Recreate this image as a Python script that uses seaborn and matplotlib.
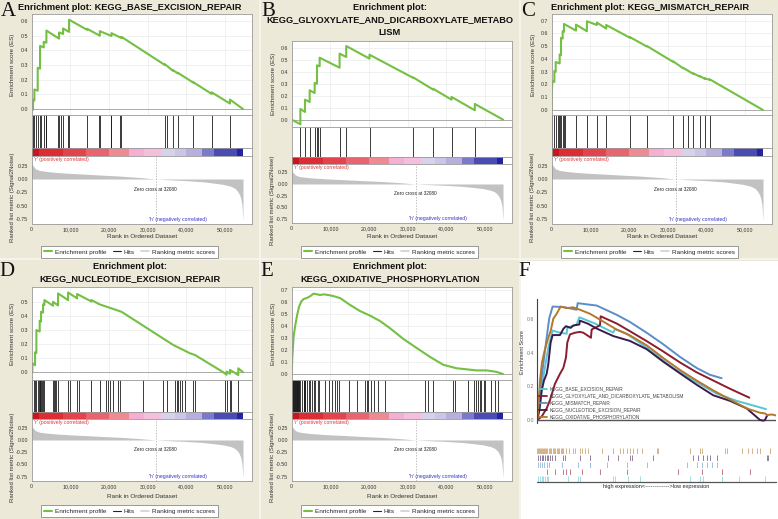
import matplotlib
matplotlib.use("Agg")
import matplotlib.pyplot as plt
from matplotlib.lines import Line2D
from matplotlib.patches import Rectangle
from matplotlib.ticker import FuncFormatter
import seaborn as sns

sns.set_style("white")
plt.rcParams["font.family"] = ["Liberation Sans", "DejaVu Sans"]

W, H = 778, 519
N_GENES = 54675
ZERO_CROSS = 32080
XMAX = 57000

BEIGE = "#ece9d8"
GREEN = "#74c043"

# Signal2Noise ranking metric shared by the five GSEA panels
metric_rank = [0, 300, 1000, 2000, 4000, 6000, 10000, 14000, 18000, 23000, 28000, 32080,
               36000, 40000, 44000, 47000, 49500, 51500, 52500, 53200, 53700, 54100, 54400, 54675]
metric_val = [0.30, 0.25, 0.19, 0.16, 0.14, 0.125, 0.105, 0.09, 0.073, 0.054, 0.028, 0.0,
              -0.016, -0.03, -0.05, -0.075, -0.10, -0.135, -0.17, -0.22, -0.28, -0.36, -0.48, -0.78]

# red -> blue heat bar under the hits
bar_edges = [0, 2000, 8000, 14000, 20000, 25300, 29000, 33400, 37000, 40000, 44000, 47200, 53200, 54675]
bar_colors = ["#c8161d", "#dc2d35", "#e2434c", "#e8646e", "#ee8a92", "#f3b0d2", "#f5bfdc",
              "#d6d2ec", "#cbc5e6", "#b7afdc", "#7b79c9", "#4b4bb4", "#2424a2"]

# A: KEGG_BASE_EXCISION_REPAIR
ber_x = [0, 350, 350, 690, 690, 1550, 1550, 2160, 2160, 3110, 3110, 3800, 3800, 7080, 7080, 8120, 8120,
         9670, 9670, 14340, 14340, 17620, 17620, 20640, 20640, 23230, 23230, 34460, 34460, 36500, 36500,
         37800, 37800, 41800, 41800, 46550, 46550, 51300, 51300, 54675]
ber_y = [0.0, -0.005, 0.064, 0.057, 0.133, 0.125, 0.281, 0.275, 0.430, 0.420, 0.458, 0.452, 0.535, 0.480,
         0.522, 0.512, 0.549, 0.526, 0.609, 0.540, 0.547, 0.500, 0.531, 0.498, 0.517, 0.484, 0.492, 0.300,
         0.305, 0.262, 0.266, 0.243, 0.247, 0.180, 0.183, 0.103, 0.114, 0.037, 0.064, 0.0]
ber_hits = [350, 690, 1100, 1550, 2160, 2500, 3110, 3630, 3800, 6850, 7080, 7690, 8120, 9300, 9670, 14340,
            17400, 17620, 20400, 20640, 22800, 23230, 34460, 34900, 36500, 37800, 41800, 46550, 51300]

# B: KEGG_GLYOXYLATE_AND_DICARBOXYLATE_METABOLISM
glyox_x = [0, 2240, 2240, 3440, 3440, 4650, 4650, 5940, 5940, 6540, 6540, 7230, 7230, 12390, 12390,
           14110, 14110, 20130, 20130, 31480, 31480, 36630, 36630, 41360, 41360, 47380, 47380, 54675]
glyox_y = [0.0, -0.039, 0.089, 0.064, 0.167, 0.148, 0.246, 0.223, 0.307, 0.301, 0.455, 0.447, 0.519, 0.435,
           0.553, 0.525, 0.617, 0.511, 0.544, 0.349, 0.353, 0.251, 0.258, 0.167, 0.19, 0.078, 0.131, 0.0]
glyox_hits = [2240, 3440, 4650, 5940, 6540, 6700, 7230, 12390, 14110, 20130, 31480, 36630, 41360, 47380]

# C: KEGG_MISMATCH_REPAIR
mmr_x = [0, 0, 170, 690, 690, 1030, 1030, 2060, 2060, 2410, 2410, 2840, 2840, 3180, 3180, 6280, 6280,
         9110, 9110, 11690, 11690, 14100, 14100, 20290, 20290, 24590, 24590, 31470, 31470, 34050, 34050,
         36620, 36620, 38340, 38340, 39630, 39630, 40920, 40920, 54675]
mmr_y = [0.0, 0.109, 0.228, 0.22, 0.306, 0.30, 0.376, 0.365, 0.435, 0.43, 0.565, 0.56, 0.617, 0.612, 0.674,
         0.622, 0.669, 0.617, 0.695, 0.666, 0.685, 0.638, 0.666, 0.565, 0.570, 0.498, 0.502, 0.376, 0.380,
         0.326, 0.330, 0.283, 0.287, 0.262, 0.266, 0.244, 0.248, 0.236, 0.240, 0.0]
mmr_hits = [0, 170, 690, 1030, 1550, 1890, 2060, 2410, 2840, 3180, 3440, 6280, 9110, 11690, 14100, 20290,
            24590, 31470, 34050, 35330, 36620, 38340, 39630, 40920]

# D: KEGG_NUCLEOTIDE_EXCISION_REPAIR
ner_x = [0, 170, 170, 860, 860, 1210, 1210, 2070, 2070, 2420, 2420, 2940, 2940, 3280, 3280, 5530, 5530,
         6820, 6820, 9410, 9410, 11750, 11750, 15460, 15460, 17620, 23230, 36620, 40940, 42230, 49580,
         50440, 50440, 51300, 51300, 53460, 53460, 54675]
ner_y = [0.0, -0.003, 0.064, 0.050, 0.142, 0.137, 0.300, 0.290, 0.366, 0.361, 0.430, 0.424, 0.482, 0.478,
         0.513, 0.473, 0.501, 0.475, 0.560, 0.513, 0.567, 0.525, 0.556, 0.503, 0.513, 0.482, 0.430, 0.194,
         0.135, 0.123, 0.0, -0.018, 0.005, -0.010, 0.017, -0.020, 0.028, 0.0]
ner_hits = [170, 690, 860, 1210, 1550, 1900, 2070, 2250, 2420, 2760, 2940, 3280, 5530, 5790, 6050, 6390,
            6820, 9410, 9850, 11750, 12270, 15460, 17620, 19350, 19780, 20210, 21070, 22370, 22800, 28850,
            34030, 34890, 37050, 37480, 37920, 38350, 38780, 39640, 41800, 42230, 50010, 50440, 51300,
            51480, 53460]

# E: KEGG_OXIDATIVE_PHOSPHORYLATION
oxphos_x = [0, 170, 520, 950, 1380, 1890, 2490, 3100, 3960, 4820, 5670, 7390, 8250, 9540, 10830, 12550,
            15130, 17710, 20290, 22870, 25450, 28890, 32320, 35760, 39200, 42640, 45220, 47800, 50380,
            52960, 54675]
oxphos_y = [0.0, 0.143, 0.32, 0.41, 0.486, 0.56, 0.605, 0.625, 0.634, 0.649, 0.67, 0.658, 0.664, 0.658,
            0.649, 0.632, 0.575, 0.524, 0.486, 0.441, 0.381, 0.292, 0.217, 0.143, 0.077, 0.048, 0.039,
            0.03, 0.03, 0.018, 0.0]
oxphos_hits = [60, 180, 300, 420, 540, 660, 780, 900, 1020, 1140, 1260, 1380, 1500, 1620, 1740, 1860, 1980,
               2250, 2670, 3100, 3250, 3400, 3530, 3960, 4390, 4820, 5250, 5680, 6110, 6800, 6970, 8520,
               9720, 10410, 11270, 11700, 12130, 14710, 16860, 18840, 19440, 19870, 20550, 21410, 22450,
               24170, 34480, 35340, 36630, 41790, 42220, 45490, 47200, 47810, 48240, 48670, 49100, 49780,
               50130, 51680, 52530, 53390]

# F: combined running scores
f_names = ["KEGG_BASE_EXCISION_REPAIR", "KEGG_GLYOXYLATE_AND_DICARBOXYLATE_METABOLISM",
           "KEGG_MISMATCH_REPAIR", "KEGG_NUCLEOTIDE_EXCISION_REPAIR", "KEGG_OXIDATIVE_PHOSPHORYLATION"]
f_colors = ["#56c6d3", "#8c1c2f", "#5b8ec8", "#3b1b4e", "#b6772b"]
f_ber_x = [0, 610, 1370, 2520, 3510, 5190, 6720, 6870, 9010, 9620, 13210, 16930, 17410, 17790, 20460,
           25050, 31160, 36500, 41080, 45660, 52380]
f_ber_y = [0.0, 0.078, 0.255, 0.431, 0.533, 0.52, 0.514, 0.549, 0.569, 0.612, 0.575, 0.527, 0.52, 0.543,
           0.514, 0.431, 0.31, 0.225, 0.157, 0.114, 0.065]
f_glyox_x = [0, 990, 2140, 2900, 4050, 5190, 5960, 6570, 6870, 7480, 8630, 9770, 10540, 12290, 12450,
             13970, 14360, 14510, 18170, 21230, 25050, 28870, 32680, 36500, 40320, 44140, 48570]
f_glyox_y = [0.0, 0.02, 0.069, 0.118, 0.216, 0.275, 0.31, 0.373, 0.461, 0.51, 0.52, 0.525, 0.52, 0.49,
             0.539, 0.559, 0.565, 0.618, 0.575, 0.529, 0.47, 0.408, 0.343, 0.284, 0.235, 0.186, 0.133]
f_mmr_x = [0, 610, 1370, 2140, 2750, 3510, 5960, 9010, 9240, 13590, 18170, 21230, 25050, 28870, 32680,
           36500, 39560, 42230]
f_mmr_y = [0.0, 0.176, 0.333, 0.49, 0.608, 0.676, 0.673, 0.657, 0.696, 0.682, 0.627, 0.584, 0.52, 0.451,
           0.376, 0.31, 0.269, 0.249]
f_ner_x = [0, 460, 990, 1530, 2140, 2520, 3050, 3510, 5190, 5960, 6570, 7640, 8250, 9620, 9770, 11680,
           13590, 17410, 21230, 25050, 28870, 32680, 36500, 40320, 44140, 47960, 51010, 51770, 52150, 52690]
f_ner_y = [0.0, 0.059, 0.176, 0.235, 0.275, 0.333, 0.461, 0.506, 0.506, 0.543, 0.559, 0.549, 0.563, 0.569,
           0.592, 0.573, 0.545, 0.5, 0.471, 0.422, 0.347, 0.278, 0.21, 0.147, 0.114, 0.069, 0.0, -0.004,
           0.0, 0.029]
f_oxphos_x = [0, 310, 610, 1070, 1760, 2520, 3050, 3670, 4430, 5350, 6720, 8250, 9770, 12070, 14360,
              18170, 21230, 25050, 28870, 32680, 36500, 40320, 44140, 47960, 51010, 52150, 52690, 53680, 54675]
f_oxphos_y = [0.0, 0.098, 0.235, 0.343, 0.422, 0.49, 0.529, 0.604, 0.633, 0.676, 0.667, 0.671, 0.657,
              0.633, 0.598, 0.539, 0.504, 0.445, 0.369, 0.298, 0.235, 0.176, 0.122, 0.069, 0.043, 0.039,
              0.029, 0.033, 0.027]

f_oxphos_hits = [0, 230, 460, 690, 920, 1150, 1370, 1600, 1830, 2060, 2290, 2600, 2900, 3210, 3510, 3820,
                 4120, 4430, 4730, 5040, 5350, 5570, 5960, 6570, 7330, 8090, 8630, 9770, 10160, 10920, 11680,
                 14740, 17410, 18940, 19700, 20460, 21230, 21990, 22760, 23900, 27340, 27720, 34970, 37260,
                 37650, 42990, 43370, 46810, 48340, 49100, 50250, 51010, 53300]
f_ner_hits = [230, 610, 990, 1370, 1760, 2140, 2520, 2900, 3280, 4050, 5960, 6340, 9770, 12070, 16270,
              18560, 21230, 21610, 26570, 35740, 36880, 38030, 38790, 39560, 41080, 52540, 52920]
f_mmr_hits = [230, 610, 990, 1530, 2140, 2750, 5570, 9390, 12070, 15880, 20460, 25050, 34210, 36500,
              37650, 38790, 39940, 41080]
f_glyox_hits = [2140, 4050, 5960, 6570, 7480, 10160, 14360, 20460, 32300, 37650, 42230, 48720]
f_ber_hits = [230, 610, 990, 1370, 1760, 2140, 2520, 7100, 9390, 9770, 17410, 17790, 20850, 23520, 34970,
              37260, 38030, 42230, 46190, 52150]

fig = plt.figure(figsize=(W / 100, H / 100), dpi=100)
fig.patch.set_facecolor(BEIGE)


def px_axes(x0, y0, x1, y1):
    return fig.add_axes([x0 / W, 1 - y1 / H, (x1 - x0) / W, (y1 - y0) / H])


def box(ax):
    for s in ax.spines.values():
        s.set_color("#9a9a9a")
        s.set_linewidth(0.6)
    ax.tick_params(length=1.5, width=0.4, colors="#9a9a9a", labelcolor="#333333", labelsize=3.8, pad=1.0)


# es top, hits top, bar top, rank top, rank bottom  (per number of title lines)
LAYOUT = {1: (14, 115, 148, 156, 224), 2: (28, 121, 153, 160, 222), 3: (41, 127, 157, 164, 223)}


def gsea_panel(letter, ox, oy, title, es_x, es_y, hits, ylim, yticks):
    t_es, t_hit, t_bar, t_rank, b_rank = LAYOUT[len(title)]
    left, right = ox + 31.7, ox + 252

    ax_es = px_axes(left, oy + t_es, right, oy + t_hit)
    box(ax_es)
    ax_es.grid(True, color="#e6e6e6", lw=0.4)
    ax_es.axhline(0, color="#a0a0a0", lw=0.6)
    sns.lineplot(x=es_x, y=es_y, sort=False, estimator=None, color=GREEN, linewidth=1.5, ax=ax_es)
    ax_es.set_xlim(0, XMAX)
    ax_es.set_ylim(*ylim)
    ax_es.set_yticks(yticks)
    ax_es.set_yticklabels([f"{v:.1f}" for v in yticks])
    ax_es.set_xticks(range(0, 50001, 10000))
    ax_es.set_xticklabels([])
    ax_es.tick_params(axis="x", length=0)

    ax_hit = px_axes(left, oy + t_hit, right, oy + t_bar)
    box(ax_hit)
    sns.rugplot(x=hits, height=1, color="#1a1a1a", linewidth=0.6, expand_margins=False, ax=ax_hit)
    ax_hit.set_xlim(0, XMAX)
    ax_hit.set_xticks([])
    ax_hit.set_yticks([])

    ax_bar = px_axes(left, oy + t_bar, right, oy + t_rank)
    box(ax_bar)
    for i in range(len(bar_colors)):
        ax_bar.axvspan(bar_edges[i], bar_edges[i + 1], color=bar_colors[i], lw=0)
    ax_bar.set_xlim(0, XMAX)
    ax_bar.set_xticks([])
    ax_bar.set_yticks([])

    ax_r = px_axes(left, oy + t_rank, right, oy + b_rank)
    box(ax_r)
    ax_r.fill_between(metric_rank, metric_val, 0, color="#c2c2c2", lw=0)
    ax_r.axvline(ZERO_CROSS, color="#a8a8a8", lw=0.5, ls=(0, (2, 2)))
    ax_r.set_xlim(0, XMAX)
    ax_r.set_ylim(-0.84, 0.43)
    ax_r.set_yticks([0.25, 0.0, -0.25, -0.5, -0.75])
    ax_r.set_yticklabels(["0.25", "0.00", "-0.25", "-0.50", "-0.75"])
    ax_r.set_xticks(range(0, 50001, 10000))
    ax_r.xaxis.set_major_formatter(FuncFormatter(lambda v, _: f"{int(round(v)):,}"))
    ax_r.text(500, 0.415, "'r' (positively correlated)", color="#e03535", fontsize=3.7, ha="left", va="top")
    ax_r.text(ZERO_CROSS, -0.2, f"Zero cross at {ZERO_CROSS}", color="#222222", fontsize=3.4,
              ha="center", va="center")
    ax_r.text(37800, -0.75, "'h' (negatively correlated)", color="#3535c0", fontsize=3.7,
              ha="center", va="center")

    for i, line in enumerate(title):
        fig.text((ox + 130) / W, 1 - (oy + 7.3 + 12.6 * i) / H, line, fontsize=6.7, fontweight="bold",
                 ha="center", va="center", color="#111111")
    fig.text((ox + 13) / W, 1 - (oy + (t_es + t_hit) / 2) / H, "Enrichment score (ES)", rotation=90,
             fontsize=4.5, ha="center", va="center", color="#333333")
    fig.text((ox + 12.5) / W, 1 - (oy + (t_rank + b_rank) / 2 + 7) / H, "Ranked list metric (Signal2Noise)",
             rotation=90, fontsize=4.3, ha="center", va="center", color="#333333")
    fig.text((left + right) / 2 / W, 1 - (oy + 237) / H, "Rank in Ordered Dataset", fontsize=4.6,
             ha="center", va="center", color="#333333")

    handles = [Line2D([], [], color=GREEN, lw=1.5), Line2D([], [], color="#222222", lw=0.8),
               Line2D([], [], color="#cfcfcf", lw=1.2)]
    leg = fig.legend(handles, ["Enrichment profile", "Hits", "Ranking metric scores"], loc="center",
                     bbox_to_anchor=((ox + 129.5) / W, 1 - (oy + 252) / H), ncol=3, fontsize=4.6,
                     frameon=True, fancybox=False, edgecolor="#8a8a8a", framealpha=1, handlelength=1.3,
                     handletextpad=0.4, columnspacing=1.0, borderpad=0.45)
    leg.get_frame().set_linewidth(0.6)

    fig.text((ox + (8 if oy == 0 else 7)) / W, 1 - (oy + 11 if oy == 0 else oy + 13) / H, letter,
             fontfamily="Liberation Serif", fontsize=15, ha="center", va="center", color="#111111")


# panel separators and the white panel F
fig.add_artist(Line2D([260 / W, 260 / W], [0, 1], color="#f7f6ef", lw=1.2, zorder=-0.5))
fig.add_artist(Line2D([520 / W, 520 / W], [0, 1], color="#f7f6ef", lw=1.2, zorder=-0.5))
fig.add_artist(Line2D([0, 1], [1 - 259 / H, 1 - 259 / H], color="#f7f6ef", lw=1.2, zorder=-0.5))
fig.add_artist(Rectangle((521 / W, 0), 257 / W, 1 - 261 / H, transform=fig.transFigure,
                         facecolor="white", edgecolor="none", zorder=-0.4))

gsea_panel("A", 0, 0, ["Enrichment plot: KEGG_BASE_EXCISION_REPAIR"], ber_x, ber_y, ber_hits,
           (-0.041, 0.648), [0.0, 0.1, 0.2, 0.3, 0.4, 0.5, 0.6])
gsea_panel("B", 260, 0, ["Enrichment plot:", "KEGG_GLYOXYLATE_AND_DICARBOXYLATE_METABO", "LISM"],
           glyox_x, glyox_y, glyox_hits, (-0.062, 0.659), [0.0, 0.1, 0.2, 0.3, 0.4, 0.5, 0.6])
gsea_panel("C", 520, 0, ["Enrichment plot: KEGG_MISMATCH_REPAIR"], mmr_x, mmr_y, mmr_hits,
           (-0.039, 0.752), [0.0, 0.1, 0.2, 0.3, 0.4, 0.5, 0.6, 0.7])
gsea_panel("D", 0, 259, ["Enrichment plot:", "KEGG_NUCLEOTIDE_EXCISION_REPAIR"], ner_x, ner_y, ner_hits,
           (-0.055, 0.606), [0.0, 0.1, 0.2, 0.3, 0.4, 0.5])
gsea_panel("E", 260, 259, ["Enrichment plot:", "KEGG_OXIDATIVE_PHOSPHORYLATION"], oxphos_x, oxphos_y,
           oxphos_hits, (-0.05, 0.725), [0.0, 0.1, 0.2, 0.3, 0.4, 0.5, 0.6, 0.7])

# panel F
fig.text(524 / W, 1 - 271 / H, "F", fontfamily="Liberation Serif", fontsize=15, ha="center", va="center",
         color="#111111")
ax_f = px_axes(537.3, 299, 776, 423)
ax_f.set_facecolor("none")
for s in ["top", "right", "bottom"]:
    ax_f.spines[s].set_visible(False)
ax_f.spines["left"].set_color("#444444")
ax_f.spines["left"].set_linewidth(0.8)
ax_f.axhline(0, color="#555555", lw=1.0)
f_curves = [(f_ber_x, f_ber_y), (f_glyox_x, f_glyox_y), (f_mmr_x, f_mmr_y), (f_ner_x, f_ner_y),
            (f_oxphos_x, f_oxphos_y)]
for (cx, cy), col in zip(f_curves, f_colors):
    sns.lineplot(x=cx, y=cy, sort=False, estimator=None, color=col, linewidth=1.4, ax=ax_f)
ax_f.set_xlim(0, N_GENES)
ax_f.set_ylim(-0.018, 0.721)
ax_f.set_xticks([])
ax_f.set_yticks([0.0, 0.2, 0.4, 0.6])
ax_f.set_yticklabels(["0.0", "0.2", "0.4", "0.6"])
ax_f.tick_params(axis="y", length=1.5, width=0.5, colors="#888888", labelcolor="#777777", labelsize=3.8,
                 pad=1)
fig.text(522 / W, 1 - 352 / H, "Enrichment Score", rotation=90, fontsize=4, ha="center", va="center",
         color="#333333")
f_handles = [Line2D([], [], color=c, lw=1.3) for c in f_colors]
fl = fig.legend(f_handles, f_names, loc="center left", bbox_to_anchor=(539 / W, 1 - 403 / H), fontsize=3.4,
                frameon=False, handlelength=1.7, handletextpad=0.6, labelspacing=0.39, borderpad=0,
                borderaxespad=0)
for t in fl.get_texts():
    t.set_color("#444444")

# rug of hits for panel F, top row to bottom row
f_rows = [f_oxphos_hits, f_ner_hits, f_mmr_hits, f_glyox_hits, f_ber_hits]
f_row_colors = [f_colors[4], f_colors[3], f_colors[2], f_colors[1], f_colors[0]]
for i, (hits, col) in enumerate(zip(f_rows, f_row_colors)):
    ax_rug = px_axes(537.3, 447 + 7 * i, 776, 454 + 7 * i)
    ax_rug.set_facecolor("none")
    sns.rugplot(x=hits, height=0.9, color=col, alpha=0.65, linewidth=0.6, expand_margins=False, ax=ax_rug)
    ax_rug.set_xlim(0, N_GENES)
    ax_rug.axis("off")
fig.add_artist(Line2D([537.3 / W, 776 / W], [1 - 482 / H, 1 - 482 / H], color="#555555", lw=0.9))
fig.text(656 / W, 1 - 486.5 / H, "high expression<------------->low expression", fontsize=4,
         ha="center", va="center", color="#222222")

fig.savefig("out.png", dpi=100, facecolor=fig.get_facecolor())
